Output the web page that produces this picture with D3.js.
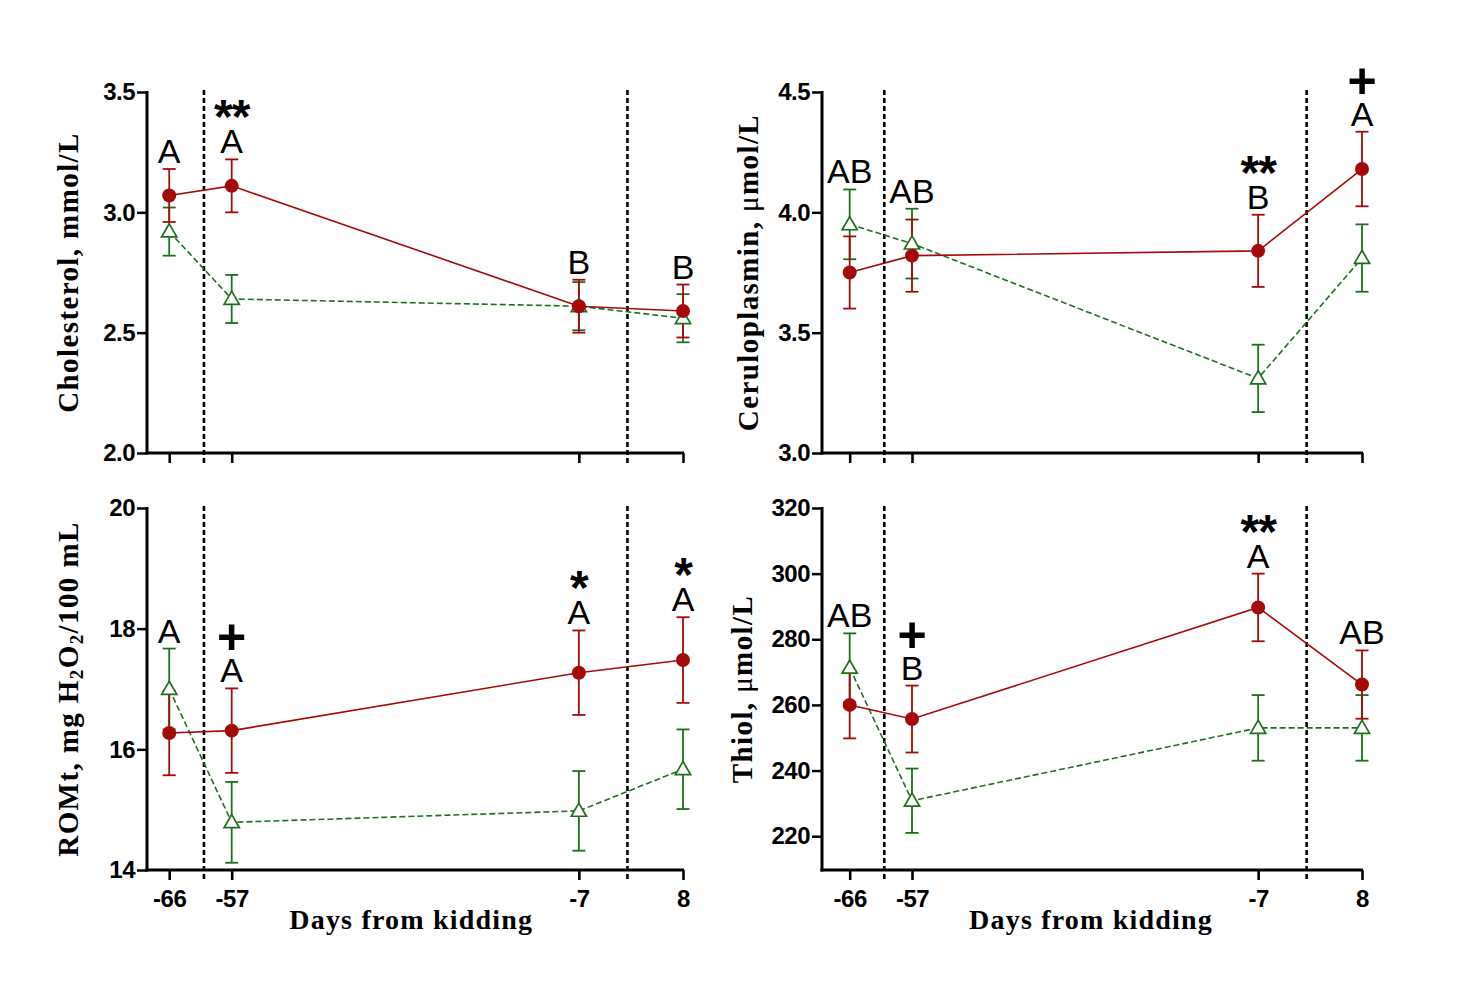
<!DOCTYPE html>
<html>
<head>
<meta charset="utf-8">
<script src="https://cdn.jsdelivr.net/npm/d3@7"></script>
<style>
  body { margin: 0; background: #fff; }
  svg { display: block; }
</style>
</head>
<body>
<div id="chart"></div>
<script>
// Sampling days (days from kidding) and the two period dividers
const days = [-66, -57, -7, 8];
const dividers = [-61, 0];

// Cholesterol, mmol/L
const cholRed = [3.07, 3.11, 2.61, 2.59];
const cholRedErr = [0.11, 0.11, 0.11, 0.11];
const cholGreen = [2.92, 2.64, 2.61, 2.56];
const cholGreenErr = [0.10, 0.10, 0.10, 0.10];
const cholLetters = ["A", "A", "B", "B"];
const cholMarks = ["", "**", "", ""];

// Ceruloplasmin, umol/L
const cerRed = [3.75, 3.82, 3.84, 4.18];
const cerRedErr = [0.15, 0.15, 0.15, 0.155];
const cerGreen = [3.95, 3.87, 3.31, 3.81];
const cerGreenErr = [0.145, 0.145, 0.14, 0.14];
const cerLetters = ["AB", "AB", "B", "A"];
const cerMarks = ["", "", "**", "+"];

// ROMt, mg H2O2/100 mL
const romRed = [16.27, 16.31, 17.27, 17.48];
const romRedErr = [0.70, 0.70, 0.70, 0.71];
const romGreen = [17.0, 14.79, 14.98, 15.67];
const romGreenErr = [0.67, 0.67, 0.66, 0.66];
const romLetters = ["A", "A", "A", "A"];
const romMarks = ["", "+", "*", "*"];

// Thiol, umol/L
const thiolRed = [260.0, 255.7, 289.7, 266.2];
const thiolRedErr = [10.2, 10.2, 10.3, 10.4];
const thiolGreen = [271.3, 230.8, 253.0, 253.0];
const thiolGreenErr = [10.5, 9.8, 10.0, 10.0];
const thiolLetters = ["AB", "B", "A", "AB"];
const thiolMarks = ["", "+", "**", ""];

// Tick values
const cholTicks = [2.0, 2.5, 3.0, 3.5];
const cerTicks = [3.0, 3.5, 4.0, 4.5];
const romTicks = [14, 16, 18, 20];
const thiolTicks = [220, 240, 260, 280, 300, 320];

const red = "#a30b0b";
const green = "#1f6f1f";

const width = 1472;
const height = 987;

const svg = d3.select("#chart").append("svg")
              .attr("width", width)
              .attr("height", height);

// plain hyphen for negative day labels, like the original
const dayFormat = d => String(d);

// Panel layout (pixel boxes) and the data for each panel
const panels = [
  { x0: 147, x1: 683, xMin: -69.2, y0: 453, y1: 92, yDomain: [2, 3.5], ticks: cholTicks, fmt: d3.format(".1f"),
    red: cholRed, redErr: cholRedErr, green: cholGreen, greenErr: cholGreenErr,
    letters: cholLetters, marks: cholMarks, label: ["Cholesterol, mmol/L"], labelX: 68, xTitle: false },
  { x0: 822, x1: 1362, xMin: -70, y0: 453, y1: 92, yDomain: [3, 4.5], ticks: cerTicks, fmt: d3.format(".1f"),
    red: cerRed, redErr: cerRedErr, green: cerGreen, greenErr: cerGreenErr,
    letters: cerLetters, marks: cerMarks, label: ["Ceruloplasmin, ", "μ", "mol/L"], labelX: 748, xTitle: false },
  { x0: 147, x1: 683, xMin: -69.2, y0: 870, y1: 508, yDomain: [14, 20], ticks: romTicks, fmt: d3.format("d"),
    red: romRed, redErr: romRedErr, green: romGreen, greenErr: romGreenErr,
    letters: romLetters, marks: romMarks, label: "rom", labelX: 68, xTitle: true },
  { x0: 822, x1: 1362, xMin: -70, y0: 870, y1: 508, yDomain: [209.7, 320], ticks: thiolTicks, fmt: d3.format("d"),
    red: thiolRed, redErr: thiolRedErr, green: thiolGreen, greenErr: thiolGreenErr,
    letters: thiolLetters, marks: thiolMarks, label: ["Thiol, ", "μ", "mol/L"], labelX: 742, xTitle: true }
];

panels.forEach(function(p) {
  const x = d3.scaleLinear().domain([p.xMin, 8]).range([p.x0, p.x1]);
  const y = d3.scaleLinear().domain(p.yDomain).range([p.y0, p.y1]);
  const g = svg.append("g");

  // Dotted period dividers (they run through the x axis as ticks)
  g.selectAll("line.divider")
   .data(dividers)
   .enter()
   .append("line")
   .attr("class", "divider")
   .attr("x1", d => x(d)).attr("x2", d => x(d))
   .attr("y1", p.y1 - 2).attr("y2", p.y0 + 10)
   .style("stroke", "#000")
   .style("stroke-width", 2.6)
   .style("stroke-dasharray", "5,3");

  // Y axis
  const yAxis = d3.axisLeft(y)
                  .tickValues(p.ticks)
                  .tickFormat(p.fmt)
                  .tickSize(10)
                  .tickSizeOuter(0)
                  .tickPadding(2);
  const ya = g.append("g")
              .attr("transform", "translate(" + p.x0 + ",0)")
              .call(yAxis);
  ya.select(".domain").remove();
  ya.selectAll(".tick line").style("stroke", "#000").style("stroke-width", 2.5);
  ya.selectAll(".tick text")
    .attr("font-family", "Liberation Sans, Arial, sans-serif")
    .attr("font-weight", "bold")
    .attr("font-size", 24)
    .style("letter-spacing", "-0.5px")
    .style("fill", "#000");
  g.append("line")
   .attr("x1", p.x0).attr("x2", p.x0)
   .attr("y1", p.y1 - 1).attr("y2", p.y0 + 1.5)
   .style("stroke", "#000").style("stroke-width", 3);

  // X axis
  const xAxis = d3.axisBottom(x)
                  .tickValues(days)
                  .tickFormat(dayFormat)
                  .tickSize(10)
                  .tickSizeOuter(0)
                  .tickPadding(10);
  const xa = g.append("g")
              .attr("transform", "translate(0," + p.y0 + ")")
              .call(xAxis);
  xa.select(".domain").remove();
  xa.selectAll(".tick line").style("stroke", "#000").style("stroke-width", 2.6);
  xa.selectAll(".tick text")
    .attr("font-family", "Liberation Sans, Arial, sans-serif")
    .attr("font-weight", "bold")
    .attr("font-size", 24)
    .style("letter-spacing", "-0.5px")
    .style("fill", "#000")
    .style("display", p.xTitle ? null : "none");
  g.append("line")
   .attr("x1", p.x0 - 1.5).attr("x2", p.x1 + 1)
   .attr("y1", p.y0).attr("y2", p.y0)
   .style("stroke", "#000").style("stroke-width", 3);

  if (p.xTitle) {
    g.append("text")
     .attr("x", (x(-57) + x(-7)) / 2 + 6)
     .attr("y", p.y0 + 59)
     .attr("text-anchor", "middle")
     .style("font-family", "'Liberation Serif', 'Times New Roman', serif")
     .style("font-weight", "bold")
     .style("font-size", "28px")
     .style("letter-spacing", "1.2px")
     .text("Days from kidding");
  }

  // Y axis title
  const t = g.append("text")
             .attr("transform", "translate(" + (p.labelX + 10) + "," + ((p.y0 + p.y1) / 2) + ") rotate(-90)")
             .attr("text-anchor", "middle")
             .style("font-family", "'Liberation Serif', 'Times New Roman', serif")
             .style("font-weight", "bold")
             .style("font-size", "29px")
             .style("letter-spacing", "1.4px");
  if (p.label === "rom") {
    t.append("tspan").text("ROMt, mg H");
    t.append("tspan").attr("baseline-shift", "-25%").style("font-size", "19px").text("2");
    t.append("tspan").text("O");
    t.append("tspan").attr("baseline-shift", "-25%").style("font-size", "19px").text("2");
    t.append("tspan").text("/100 mL");
  } else if (p.label.length === 3) {
    t.append("tspan").text(p.label[0]);
    t.append("tspan").style("font-weight", "normal").text(p.label[1]);
    t.append("tspan").text(p.label[2]);
  } else {
    t.text(p.label[0]);
  }

  const redPts = days.map((d, i) => ({ day: d, v: p.red[i], e: p.redErr[i] }));
  const greenPts = days.map((d, i) => ({ day: d, v: p.green[i], e: p.greenErr[i] }));
  const line = d3.line().x(d => x(d.day)).y(d => y(d.v));

  // Connecting lines
  g.append("path")
   .datum(greenPts)
   .attr("d", line)
   .style("fill", "none")
   .style("stroke", green)
   .style("stroke-width", 1.6)
   .style("stroke-dasharray", "6,3");
  g.append("path")
   .datum(redPts)
   .attr("d", line)
   .style("fill", "none")
   .style("stroke", red)
   .style("stroke-width", 1.6);

  // Error bars
  function errorBars(pts, color) {
    const eb = g.append("g").style("stroke", color).style("stroke-width", 1.8);
    pts.forEach(function(d) {
      const cx = x(d.day);
      eb.append("line").attr("x1", cx).attr("x2", cx).attr("y1", y(d.v + d.e)).attr("y2", y(d.v - d.e));
      eb.append("line").attr("x1", cx - 6.5).attr("x2", cx + 6.5).attr("y1", y(d.v + d.e)).attr("y2", y(d.v + d.e));
      eb.append("line").attr("x1", cx - 6.5).attr("x2", cx + 6.5).attr("y1", y(d.v - d.e)).attr("y2", y(d.v - d.e));
    });
  }
  errorBars(greenPts, green);
  errorBars(redPts, red);

  // Open triangles
  g.selectAll("path.tri")
   .data(greenPts)
   .enter()
   .append("path")
   .attr("class", "tri")
   .attr("d", d3.symbol().type(d3.symbolTriangle).size(100))
   .attr("transform", d => "translate(" + x(d.day) + "," + (y(d.v) + 1) + ")")
   .style("fill", "#fff")
   .style("stroke", green)
   .style("stroke-width", 1.7);

  // Filled circles
  g.selectAll("circle.pt")
   .data(redPts)
   .enter()
   .append("circle")
   .attr("class", "pt")
   .attr("cx", d => x(d.day))
   .attr("cy", d => y(d.v))
   .attr("r", 7)
   .style("fill", red);

  // Letters and significance marks above the highest error bar
  days.forEach(function(d, i) {
    const top = Math.min(y(p.red[i] + p.redErr[i]), y(p.green[i] + p.greenErr[i]));
    const base = top - 6;
    g.append("text")
     .attr("x", x(d))
     .attr("y", base)
     .attr("text-anchor", "middle")
     .style("font-family", "'Liberation Sans', Arial, sans-serif")
     .style("font-size", "34px")
     .text(p.letters[i]);
    const m = p.marks[i];
    if (m === "+") {
      g.append("text")
       .attr("x", x(d))
       .attr("y", base - 28)
       .attr("text-anchor", "middle")
       .style("font-family", "'Liberation Sans', Arial, sans-serif")
       .style("font-weight", "bold")
       .style("font-size", "50px")
       .text(m);
    } else if (m) {
      g.append("text")
       .attr("x", x(d))
       .attr("y", base - 20)
       .attr("text-anchor", "middle")
       .style("font-family", "'Liberation Sans', Arial, sans-serif")
       .style("font-weight", "bold")
       .style("font-size", "48px")
       .style("letter-spacing", "-1px")
       .text(m);
    }
  });
});
</script>
</body>
</html>
